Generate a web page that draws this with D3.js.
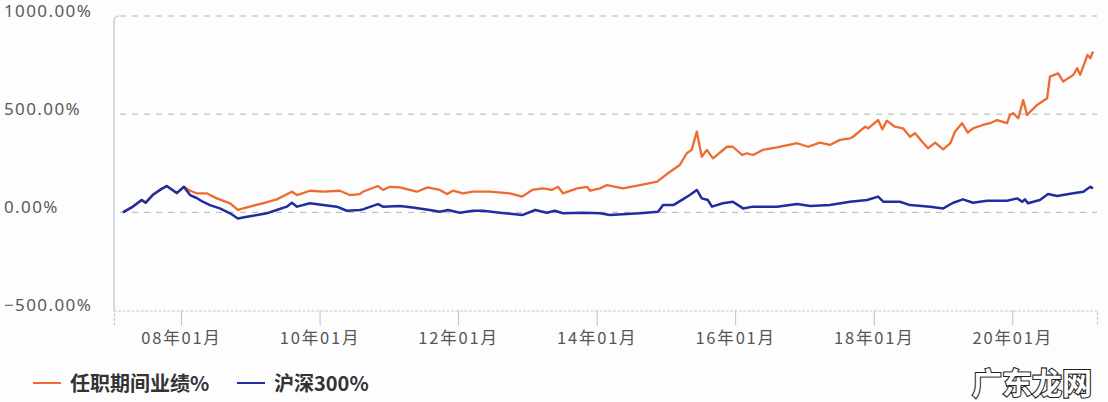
<!DOCTYPE html>
<html><head><meta charset="utf-8">
<script src="https://cdn.jsdelivr.net/npm/d3@7"></script>
<style>
html,body{margin:0;padding:0;background:#fdfdfe;}
svg{display:block;}
</style></head>
<body><svg id="c" width="1108" height="402"></svg>
<script>
// ---------- data ----------
const seriesNames = ["任职期间业绩%", "沪深300%"];
const yTickValues = [-500, 0, 500, 1000];
const xTickDates = ["2008-01-01","2010-01-01","2012-01-01","2014-01-01","2016-01-01","2018-01-01","2020-01-01"];
const xDomain = ["2007-01-13","2021-03-23"];

const commonDates = ["2007-03-01","2007-04-21","2007-06-08","2007-06-29","2007-08-05","2007-09-12","2007-10-18","2007-12-10","2008-01-16"];
const commonValues = [0,28,63,49,88,114,134,98,130];

const fundDates = ["2008-02-18","2008-03-24","2008-05-16","2008-07-08","2008-09-16","2008-10-27","2008-12-29","2009-03-07","2009-05-20","2009-08-08","2009-09-04","2009-11-11","2010-01-19","2010-04-17","2010-06-09","2010-08-01","2010-08-17","2010-11-05","2010-12-01","2011-01-07","2011-02-28","2011-05-28","2011-07-25","2011-09-27","2011-11-04","2011-12-05","2012-01-27","2012-03-19","2012-06-17","2012-10-01","2012-12-04","2013-01-26","2013-03-23","2013-05-10","2013-06-11","2013-07-07","2013-09-20","2013-11-12","2013-11-27","2014-01-19","2014-02-25","2014-05-19","2014-08-17","2014-11-16","2015-01-23","2015-03-15","2015-04-21","2015-05-17","2015-06-13","2015-07-09","2015-08-05","2015-09-06","2015-11-19","2015-12-20","2016-02-07","2016-03-03","2016-04-04","2016-05-26","2016-08-09","2016-11-23","2017-01-20","2017-03-23","2017-05-14","2017-07-07","2017-08-29","2017-09-14","2017-11-17","2017-12-02","2018-01-24","2018-02-15","2018-03-11","2018-04-22","2018-06-04","2018-07-11","2018-08-07","2018-09-13","2018-10-14","2018-11-21","2019-01-02","2019-02-09","2019-03-05","2019-04-11","2019-05-12","2019-06-08","2019-07-30","2019-09-06","2019-10-13","2019-12-05","2019-12-20","2020-01-06","2020-02-02","2020-02-28","2020-03-19","2020-05-11","2020-07-03","2020-07-18","2020-08-30","2020-09-26","2020-11-18","2020-12-09","2020-12-24","2021-02-01","2021-02-16","2021-03-02"];
const fundValues = [110,97,97,71,46,12,29,46,66,105,88,110,105,110,88,93,105,134,114,130,127,105,127,114,93,110,97,105,105,97,80,114,122,114,130,97,122,130,110,122,139,122,139,156,207,241,301,318,411,283,318,275,334,334,292,301,292,318,331,352,334,355,343,369,377,385,436,428,470,423,467,436,428,385,403,360,326,355,321,352,411,454,406,428,445,454,470,454,496,505,479,572,496,547,581,691,708,666,700,734,700,802,785,819];

const csiDates = ["2008-02-18","2008-03-24","2008-04-25","2008-06-02","2008-07-24","2008-09-16","2008-10-27","2008-12-14","2009-02-06","2009-03-28","2009-05-20","2009-07-12","2009-08-08","2009-09-04","2009-11-11","2010-01-19","2010-04-02","2010-05-24","2010-08-01","2010-08-17","2010-11-05","2010-12-01","2011-02-28","2011-05-07","2011-08-05","2011-09-27","2011-11-09","2012-01-11","2012-03-19","2012-05-11","2012-08-09","2012-12-04","2013-02-11","2013-04-13","2013-05-25","2013-07-07","2013-10-21","2014-01-19","2014-03-11","2014-08-17","2014-11-21","2014-12-17","2015-02-09","2015-03-31","2015-05-07","2015-06-13","2015-07-09","2015-08-10","2015-09-01","2015-10-28","2015-12-20","2016-02-12","2016-04-04","2016-08-09","2016-11-23","2017-02-01","2017-05-14","2017-08-29","2017-11-27","2018-01-24","2018-02-20","2018-05-19","2018-07-11","2018-10-25","2019-01-02","2019-02-24","2019-04-16","2019-06-08","2019-08-21","2019-12-05","2020-01-27","2020-02-23","2020-03-08","2020-03-24","2020-05-26","2020-07-08","2020-08-25","2020-11-18","2021-01-10","2021-02-16","2021-03-02"];
const csiValues = [88,73,54,37,20,-5,-31,-22,-14,-5,12,29,49,29,46,37,29,8,12,15,42,29,32,25,12,3,12,-2,8,8,-2,-14,12,-2,8,-5,-2,-5,-14,-5,3,37,37,66,88,114,71,63,29,46,54,20,29,29,42,32,37,54,63,80,54,54,37,29,20,49,66,49,59,59,71,54,66,46,63,93,83,97,105,130,122];

const colors = ["#ee6a2e", "#1f2d9e"];

// ---------- chart ----------
const parse = d3.timeParse("%Y-%m-%d");
const svg = d3.select("#c");
const mLeft = 114, mRight = 1097, mTop = 16, mBottom = 310.5;

const x = d3.scaleTime().domain(xDomain.map(parse)).range([mLeft, mRight]);
const y = d3.scaleLinear().domain([-500, 1000]).range([mBottom, mTop]);

// gridlines
svg.append("g").selectAll("line").data(yTickValues.filter(v => v !== -500)).join("line")
  .attr("x1", mLeft + 6).attr("x2", mRight)
  .attr("y1", d => y(d)).attr("y2", d => y(d))
  .attr("stroke", "#b0b3b8").attr("stroke-width", 1).attr("stroke-dasharray", "6,6");

// left axis line with rounded top corner
const r = 5;
svg.append("path")
  .attr("d", `M${mLeft},${mBottom} L${mLeft},${mTop + r} Q${mLeft},${mTop} ${mLeft + r},${mTop}`)
  .attr("fill", "none").attr("stroke", "#b3c4d3").attr("stroke-width", 1.2);

// bottom axis
const xAxis = d3.axisBottom(x)
  .tickValues(xTickDates.map(parse))
  .tickFormat(d3.timeFormat("%y年%m月"))
  .tickSize(15).tickPadding(7);
const gx = svg.append("g").attr("transform", `translate(0,${mBottom})`).call(xAxis);
gx.select(".domain").attr("stroke", "#b9cbdc").attr("stroke-dasharray", "3,1.5").attr("stroke-width", 1.2);
gx.selectAll(".tick line").attr("stroke", "#b3c4d3");
gx.selectAll(".tick text")
  .attr("fill", "#555").attr("font-size", 16.5).attr("letter-spacing", "1.8px")
  .attr("font-family", "'Noto Sans CJK SC', 'Noto Sans', sans-serif");

// y labels (left aligned)
svg.append("g").selectAll("text").data(yTickValues).join("text")
  .attr("x", 4).attr("y", d => y(d) + 0.5)
  .attr("fill", "#5a5a5a").attr("font-size", 17).attr("letter-spacing", "1.4px")
  .attr("font-family", "'Noto Sans', 'DejaVu Sans', sans-serif")
  .text(d => d3.format(".2f")(d) + "%");

// series
const fund = commonDates.concat(fundDates).map((d, i) => ({ date: parse(d), value: commonValues.concat(fundValues)[i] }));
const csi = commonDates.concat(csiDates).map((d, i) => ({ date: parse(d), value: commonValues.concat(csiValues)[i] }));
const line = d3.line().x(d => x(d.date)).y(d => y(d.value));

svg.append("path").datum(fund).attr("d", line)
  .attr("fill", "none").attr("stroke", colors[0]).attr("stroke-width", 2.3).attr("stroke-linejoin", "round");
svg.append("path").datum(csi).attr("d", line)
  .attr("fill", "none").attr("stroke", colors[1]).attr("stroke-width", 2.5).attr("stroke-linejoin", "round");

// legend
const legendX = [33, 237];
const lg = svg.append("g").selectAll("g").data(seriesNames).join("g")
  .attr("transform", (d, i) => `translate(${legendX[i]},383)`);
lg.append("line").attr("x1", 0).attr("x2", 28).attr("y1", 0).attr("y2", 0)
  .attr("stroke", (d, i) => colors[i]).attr("stroke-width", 2);
lg.append("text").attr("x", 37).attr("y", 7.5)
  .attr("fill", "#333").attr("font-size", 20).attr("font-weight", "bold")
  .attr("font-family", "'Noto Sans CJK SC', sans-serif")
  .text(d => d);

// watermark
svg.append("text").attr("x", 1092).attr("y", 394).attr("text-anchor", "end")
  .attr("font-size", 30).attr("font-weight", "bold")
  .attr("font-family", "'Noto Sans CJK SC', sans-serif")
  .attr("fill", "#fff").attr("stroke", "#222").attr("stroke-width", 2.2)
  .attr("paint-order", "stroke")
  .text("广东龙网");
</script>
</body></html>
